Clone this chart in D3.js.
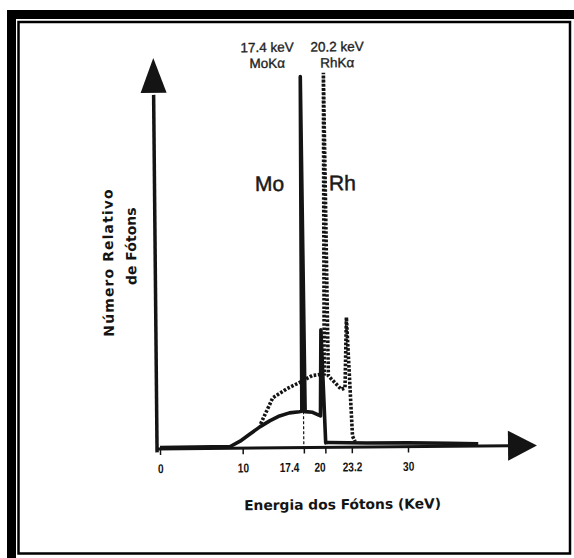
<!DOCTYPE html>
<html>
<head>
<meta charset="utf-8">
<script src="https://cdn.jsdelivr.net/npm/d3@7"></script>
<style>
  html, body { margin: 0; padding: 0; background: #fff; }
  svg { display: block; }
</style>
</head>
<body>
<svg id="chart" width="574" height="558"></svg>
<script>
// Energy axis ticks (keV)
const energyTicks = [0, 10, 17.4, 20, 23.2, 30];
const tickLabels = ["0", "10", "17.4", "20", "23.2", "30"];

// Mo target spectrum (solid): energy in keV, relative photon count
const moEnergy = [0, 8.5, 9.7, 10.9, 12.1, 13.3, 14.5, 15.7, 16.9, 17.2, 17.4, 17.6, 18.5, 19.45, 19.6, 20.05, 20.4, 25, 30, 35, 38.5];
const moCounts = [0.4, 0.5, 1.9, 3.8, 5.7, 7.3, 8.6, 9.4, 9.7, 9.8, 100, 9.7, 9.5, 8.5, 31.7, 1.3, 1.3, 1.1, 1.0, 0.8, 0.6];

// Rh target spectrum (dotted)
const rhEnergy = [12.2, 13.7, 15.4, 16.9, 18.5, 19.95, 20.2, 20.45, 22.0, 22.45, 22.7, 23.3, 23.6];
const rhCounts = [6.5, 13.5, 15.9, 17.5, 19.4, 19.8, 101, 19.3, 15.6, 16.0, 35, 3.0, 1.5];

// Characteristic-line guides (dashed) and their continuum heights
const guideEnergy = [17.4, 20];
const guideCounts = [9.8, 8.3];

// Annotation texts
const moLineLabel = ["17.4 keV", "MoKα"];
const rhLineLabel = ["20.2 keV", "RhKα"];
const yTitle = ["Número Relativo", "de Fótons"];
const xTitle = "Energia dos Fótons (KeV)";

const svg = d3.select("#chart");
const ink = "#141414";

// Picture frame
svg.append("rect").attr("x", 7).attr("y", 10).attr("width", 567).attr("height", 9).attr("fill", "#000");
svg.append("rect").attr("x", 7).attr("y", 10).attr("width", 9).attr("height", 548).attr("fill", "#000");
svg.append("rect").attr("x", 18.5).attr("y", 22).attr("width", 551.5).attr("height", 531.5)
  .attr("fill", "none").attr("stroke", "#000").attr("stroke-width", 2.5);

const x = d3.scaleLinear().domain([0, 30]).range([160, 408]);
const y = d3.scaleLinear().domain([0, 100]).range([449, 78]);

const g = svg.append("g").attr("transform", "rotate(-0.55,160,449)");

// Axes with arrowheads
const xAxisStart = -0.36, xArrowBase = 42.1, xArrowTip = 45.6;
g.append("line")
  .attr("x1", x(xAxisStart)).attr("x2", x(xArrowBase) + 2)
  .attr("y1", y(0)).attr("y2", y(0))
  .attr("stroke", ink).attr("stroke-width", 3);
g.append("path")
  .attr("d", `M${x(xArrowTip)},${y(0)} L${x(xArrowBase)},${y(0) - 15} L${x(xArrowBase)},${y(0) + 15} Z`)
  .attr("fill", ink);

const yAxisX = x(xAxisStart);
const yArrowBase = 96, yArrowTip = 105.4;
g.append("line")
  .attr("x1", yAxisX).attr("x2", yAxisX)
  .attr("y1", y(-0.9)).attr("y2", y(yArrowBase) + 2)
  .attr("stroke", ink).attr("stroke-width", 3.5);
g.append("path")
  .attr("d", `M${yAxisX},${y(yArrowTip)} L${yAxisX - 13},${y(yArrowBase)} L${yAxisX + 13},${y(yArrowBase)} Z`)
  .attr("fill", ink);

// Bottom ticks; the two crowded labels sit a little to the left
const labelNudge = { 17.4: -15, 20: -6 };
const axis = d3.axisBottom(x)
  .tickValues(energyTicks)
  .tickFormat((d, i) => tickLabels[i])
  .tickSize(6).tickSizeOuter(0).tickPadding(9);
const ax = g.append("g").attr("transform", `translate(0,${y(0)})`).call(axis);
ax.select(".domain").remove();
ax.selectAll(".tick line").attr("stroke", ink).attr("stroke-width", 1.5);
ax.selectAll(".tick text")
  .attr("fill", ink)
  .attr("transform", d => `translate(${labelNudge[d] || 0},0) scale(0.78,1)`)
  .style("font-family", "'Liberation Sans', Arial, sans-serif")
  .style("font-weight", "bold")
  .style("font-size", "13px");

// Dashed guides under the characteristic lines
guideEnergy.forEach((e, i) => {
  g.append("line")
    .attr("x1", x(e)).attr("x2", x(e))
    .attr("y1", y(guideCounts[i])).attr("y2", y(0))
    .attr("stroke", ink).attr("stroke-width", 1.2)
    .attr("stroke-dasharray", "3,2");
});

const line = d3.line().x(d => x(d[0])).y(d => y(d[1]));

// Rh spectrum (dotted)
g.append("path")
  .datum(d3.zip(rhEnergy, rhCounts))
  .attr("d", line)
  .attr("fill", "none")
  .attr("stroke", ink)
  .attr("stroke-width", 3.6)
  .attr("stroke-dasharray", "2.6,1.6")
  .attr("stroke-linejoin", "miter");

// Mo spectrum (solid)
g.append("path")
  .datum(d3.zip(moEnergy, moCounts))
  .attr("d", line)
  .attr("fill", "none")
  .attr("stroke", ink)
  .attr("stroke-width", 3.6)
  .attr("stroke-linejoin", "round");

// Line annotations
const annFont = "'Liberation Sans', Arial, sans-serif";
function lineLabel(lines, cx) {
  lines.forEach((t, i) => {
    g.append("text")
      .attr("x", cx).attr("y", 53 + i * 16)
      .attr("text-anchor", "middle")
      .attr("fill", "#222")
      .attr("stroke", "#222").attr("stroke-width", 0.35)
      .style("font-family", annFont)
      .style("font-size", "13.5px")
      .text(t);
  });
}
lineLabel(moLineLabel, x(17.4) - 33);
lineLabel(rhLineLabel, x(20.2) + 14);

[["Mo", 272], ["Rh", 345]].forEach(([t, cx]) => {
  g.append("text").attr("x", cx).attr("y", 192).attr("text-anchor", "middle")
    .attr("fill", "#1a1a1a").attr("stroke", "#1a1a1a").attr("stroke-width", 0.5)
    .style("font-family", annFont).style("font-size", "21px").text(t);
});

// Axis titles
const titleFont = "'DejaVu Sans', Verdana, sans-serif";
g.append("text")
  .attr("transform", "translate(115,262) rotate(-90)")
  .attr("text-anchor", "middle")
  .attr("fill", ink)
  .style("font-family", titleFont).style("font-weight", "bold").style("font-size", "14px")
  .style("letter-spacing", "1.1px")
  .text(yTitle[0]);
g.append("text")
  .attr("transform", "translate(138,246) rotate(-90)")
  .attr("text-anchor", "middle")
  .attr("fill", ink)
  .style("font-family", titleFont).style("font-weight", "bold").style("font-size", "14px")
  .text(yTitle[1]);
g.append("text")
  .attr("x", 342).attr("y", 511)
  .attr("text-anchor", "middle")
  .attr("fill", ink)
  .style("font-family", titleFont).style("font-weight", "bold").style("font-size", "13.8px")
  .text(xTitle);
</script>
</body>
</html>
